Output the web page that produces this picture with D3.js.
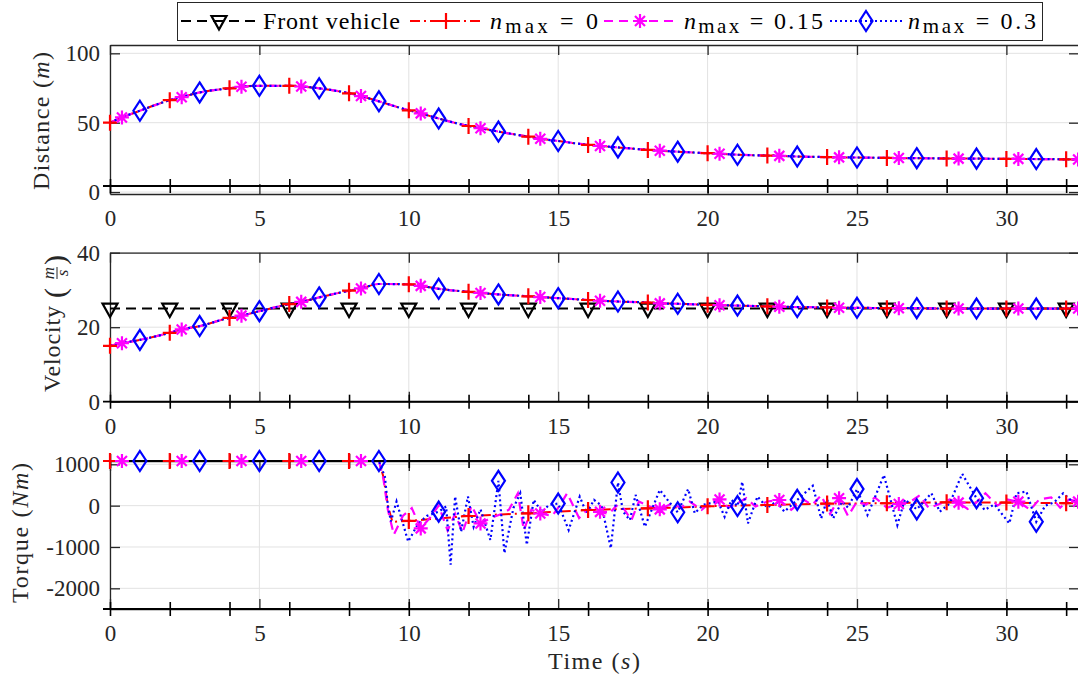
<!DOCTYPE html>
<html lang="en">
<head>
<meta charset="utf-8">
<title>Vehicle following: distance, velocity, torque</title>
<style>
  html, body { margin: 0; padding: 0; background: #ffffff; }
  svg text { font-family: 'Liberation Serif'; }
</style>
<script src="https://cdn.jsdelivr.net/npm/d3@7/dist/d3.min.js"></script>
</head>
<body>
<div id="plot"></div>
<script>
// Tick labels
const timeTicks = [0, 5, 10, 15, 20, 25, 30];
const markerTicks = [0, 2, 4, 6, 8, 10, 12, 14, 16, 18, 20, 22, 24, 26, 28, 30, 32];
const distanceTicks = [0, 50, 100];
const velocityTicks = [0, 20, 40];
const torqueTicks = [-2000, -1000, 0, 1000];
const legendLabels = ['Front vehicle', '0', '0.15', '0.3'];

// Kinematics sampled at the marker instants (the three controllers overlap)
const timeKin = [0, 0.4, 1, 2, 2.4, 3, 4, 4.4, 5, 6, 6.4, 7, 8, 8.4, 9, 10, 10.4, 11, 12, 12.4, 13,
    14, 14.4, 15, 16, 16.4, 17, 18, 18.4, 19, 20, 20.4, 21, 22, 22.4, 23, 24, 24.4, 25, 26, 26.4,
    27, 28, 28.4, 29, 30, 30.4, 31, 32, 32.4];
const distance = [50, 53.8, 58.6, 66.2, 68.4, 71.8, 74.8, 75.9, 76.6, 76.6, 76.1, 74.8, 71.2, 69.2,
    65.4, 58.9, 56.7, 53, 47.6, 46, 43.6, 39.9, 38.4, 36.8, 34, 33.2, 32.2, 30.4, 29.8, 29.1, 28,
    27.6, 26.9, 26.3, 26.1, 25.6, 25.2, 25, 24.9, 24.6, 24.5, 24.4, 24.2, 24.1, 24.1, 23.9, 23.9,
    23.8, 23.6, 23.5];
const velocity = [15, 15.7, 16.6, 18.5, 19.4, 20.3, 22.5, 23.1, 24.3, 26.2, 26.8, 28, 29.8, 30.4,
    31.6, 31.5, 31.1, 30.3, 29.5, 29.2, 28.8, 28.3, 28.1, 27.8, 27.3, 27.1, 26.9, 26.6, 26.4, 26.3,
    26, 25.9, 25.8, 25.6, 25.5, 25.4, 25.3, 25.2, 25.2, 25.1, 25.1, 25.1, 25, 25, 25, 25, 25, 25,
    25, 25];
const frontTime = [0, 2, 4, 6, 8, 10, 12, 14, 16, 18, 20, 22, 24, 26, 28, 30, 32, 32.4];
const frontVelocity = [25, 25, 25, 25, 25, 25, 25, 25, 25, 25, 25, 25, 25, 25, 25, 25, 25, 25];

// Torque, n_max = 0
const torqueTime0 = [0, 2, 4, 6, 8, 9, 9.15, 9.3, 9.45, 10, 11, 12, 13, 14, 15, 16, 17, 18, 19,
    20, 21, 22, 23, 24, 25, 26, 27, 28, 29, 30, 31, 32, 32.4];
const torque0 = [1080, 1080, 1080, 1080, 1080, 1080, 700, 0, -390, -370, -310, -250, -215, -185,
    -145, -105, -85, -64, -45, -15, 0, 16, 35, 50, 55, 58, 70, 80, 78, 75, 65, 60, 62];

// Torque, n_max = 0.15
const torqueTime15 = [0, 0.4, 2.4, 4.4, 6.4, 8.4, 9, 9.15, 9.3, 9.5, 9.8, 10.1, 10.4, 10.7, 11,
    11.3, 11.55, 11.8, 12.1, 12.4, 12.75, 13.1, 13.35, 13.65, 13.85, 14.1, 14.4, 14.8, 15.05, 15.3,
    15.7, 16, 16.4, 16.7, 16.95, 17.2, 17.45, 17.7, 18.1, 18.4, 18.8, 19.1, 19.4, 19.8, 20.1, 20.4,
    20.7, 21, 21.3, 21.6, 22, 22.4, 22.8, 23.2, 23.5, 23.8, 24.1, 24.4, 24.7, 25, 25.3, 25.6, 26,
    26.4, 26.8, 27.1, 27.4, 27.8, 28.1, 28.4, 28.7, 29, 29.3, 29.7, 30, 30.4, 30.8, 31.1, 31.5,
    31.8, 32.1, 32.4];
const torque15 = [1080, 1080, 1080, 1080, 1080, 1080, 1080, 650, -100, -700, -250, -60, -550, -300,
    0, -600, -200, -650, 0, -430, -300, -200, -100, 300, -600, -100, -190, -250, 0, 300, -300, -80,
    -150, -200, 0, -80, -350, 100, -30, -90, 50, -50, 100, -100, 80, 150, -50, 60, 180, -20, 100,
    137, -100, 150, 20, 250, -200, 180, -250, 100, 20, 200, -50, 40, 100, 250, -60, 50, 150, 73, -80,
    80, 300, 0, 150, 97, -100, 150, 200, -50, 150, 97];

// Torque, n_max = 0.3
const torqueTime30 = [0, 1, 3, 5, 7, 9, 9.2, 9.3, 9.4, 9.59, 9.98, 10.3, 10.6, 11, 11.25, 11.4,
    11.55, 11.75, 11.98, 12.17, 12.4, 12.73, 13, 13.2, 13.5, 13.73, 13.95, 14.18, 14.45, 14.7, 15,
    15.35, 15.72, 15.95, 16.2, 16.45, 16.76, 17, 17.17, 17.4, 17.59, 17.9, 18.4, 18.7, 19, 19.35,
    19.57, 19.85, 20.1, 20.35, 20.57, 20.8, 21, 21.16, 21.35, 21.67, 22, 22.3, 22.57, 23, 23.52,
    23.8, 24, 24.2, 24.5, 24.7, 25, 25.35, 25.6, 25.9, 26.35, 26.6, 27, 27.49, 27.77, 28.1, 28.52,
    29, 29.27, 29.6, 30.1, 30.34, 30.67, 31, 31.3, 31.6, 31.9, 32.2, 32.4];
const torque30 = [1080, 1080, 1080, 1080, 1080, 1080, 700, 0, -380, 100, -870, -450, -250, -145,
    -20, -1430, 220, -630, 220, -510, -90, -830, 600, -1150, -60, 300, -950, 140, -150, 20, 50, -590,
    220, -185, 140, 0, -1030, 560, -145, -350, 260, -510, 380, 100, -160, 400, -185, 20, 60, 100,
    -270, 140, -10, 580, -430, 220, -50, 100, -145, 140, 480, -310, 150, -310, 100, -50, 400, -225,
    200, 740, -470, 150, -90, 300, -145, 50, 770, 180, -105, 30, -430, 300, 340, -390, 0, 80, 300,
    100, 120];

// Layout
const W = 1078, H = 677;
const fontFace = "'Liberation Serif'";
const axisColor = '#262626';

const svg = d3.select('#plot')
    .append('svg')
    .attr('width', W)
    .attr('height', H);

// every text gets the serif face inline
const serif = (sel, size) => sel.style('font-family', fontFace).style('font-size', size + 'px');

const x = d3.scaleLinear().domain([0, 32.43]).range([110, 1079]);

// Series styles and the samples that carry markers
const near = (a, b) => Math.abs(a - b) < 1e-6;
const isEven = (t) => near(t, Math.round(t)) && Math.round(t) % 2 === 0;
const isOdd = (t) => near(t, Math.round(t)) && Math.round(t) % 2 !== 0;
const isStar = (t) => isEven(t - 0.4);

const styles = {
    front: { color: '#000000', dash: '10,6', width: 2, marker: 'M-7.5,-5L7.5,-5L0,8.5Z', pick: isEven },
    n0: { color: '#ff0000', dash: '10,4,2,4', width: 2, marker: 'M-7,0H7M0,-8V8', pick: isEven },
    n15: { color: '#ff00ff', dash: '9,6', width: 2.2, marker: 'M-7,0H7M0,-7V7M-5,-5L5,5M-5,5L5,-5', pick: isStar },
    n30: { color: '#0000ff', dash: '2,3', width: 2.2, marker: 'M0,-10L6.5,0L0,10L-6.5,0Z', pick: isOdd }
};

const panels = [
    {
        top: 45, bottom: 194, domain: [-1.4, 106], ticks: distanceTicks, overlay: [186], curve: d3.curveMonotoneX,
        series: [
            { style: 'n0', t: timeKin, v: distance },
            { style: 'n15', t: timeKin, v: distance },
            { style: 'n30', t: timeKin, v: distance }
        ]
    },
    {
        top: 252.7, bottom: 401.7, domain: [0, 40], ticks: velocityTicks, overlay: [401.7], curve: d3.curveMonotoneX,
        series: [
            { style: 'front', t: frontTime, v: frontVelocity },
            { style: 'n0', t: timeKin, v: velocity },
            { style: 'n15', t: timeKin, v: velocity },
            { style: 'n30', t: timeKin, v: velocity }
        ]
    },
    {
        top: 461, bottom: 609, domain: [-2500, 1080], ticks: torqueTicks, overlay: [461, 609], curve: d3.curveLinear,
        series: [
            { style: 'n0', t: torqueTime0, v: torque0 },
            { style: 'n15', t: torqueTime15, v: torque15 },
            { style: 'n30', t: torqueTime30, v: torque30 }
        ]
    }
];

const styleAxis = (sel) => {
    sel.attr('font-family', null);
    sel.select('.domain').attr('stroke', axisColor).attr('stroke-width', 1.3);
    sel.selectAll('.tick line').attr('stroke', axisColor).attr('stroke-width', 1.3);
    sel.selectAll('.tick text')
        .attr('fill', axisColor)
        .call(serif, 23);
};

panels.forEach((p) => {
    const y = d3.scaleLinear().domain(p.domain).range([p.bottom, p.top]);
    const g = svg.append('g');

    // Grid
    g.append('g').selectAll('line')
        .data(timeTicks)
        .enter().append('line')
        .attr('x1', (d) => x(d)).attr('x2', (d) => x(d))
        .attr('y1', p.top).attr('y2', p.bottom)
        .attr('stroke', '#e2e2e2').attr('stroke-width', 1);
    g.append('g').selectAll('line')
        .data(p.ticks)
        .enter().append('line')
        .attr('x1', x.range()[0]).attr('x2', x.range()[1])
        .attr('y1', (d) => y(d)).attr('y2', (d) => y(d))
        .attr('stroke', '#e2e2e2').attr('stroke-width', 1);

    // Box axes
    g.append('g')
        .attr('transform', 'translate(0,' + p.bottom + ')')
        .call(d3.axisBottom(x).tickValues(timeTicks).tickSize(-10).tickSizeOuter(0).tickPadding(16))
        .call(styleAxis);
    g.append('g')
        .attr('transform', 'translate(0,' + p.top + ')')
        .call(d3.axisTop(x).tickValues(timeTicks).tickSize(-10).tickSizeOuter(0).tickFormat(''))
        .call(styleAxis);
    g.append('g')
        .attr('transform', 'translate(' + x.range()[0] + ',0)')
        .call(d3.axisLeft(y).tickValues(p.ticks).tickSize(-10).tickSizeOuter(0).tickPadding(10)
            .tickFormat((d) => String(d)))
        .call(styleAxis);
    g.append('g')
        .attr('transform', 'translate(' + x.range()[1] + ',0)')
        .call(d3.axisRight(y).tickValues(p.ticks).tickSize(-10).tickSizeOuter(0).tickFormat(''))
        .call(styleAxis);

    // Lines
    p.series.forEach((s) => {
        const st = styles[s.style];
        const pts = s.t.map((t, i) => [t, s.v[i]]);
        const line = d3.line()
            .x((d) => x(d[0]))
            .y((d) => y(d[1]))
            .curve(p.curve);
        g.append('path')
            .attr('d', line(pts))
            .attr('fill', 'none')
            .attr('stroke', st.color)
            .attr('stroke-width', st.width)
            .attr('stroke-dasharray', st.dash);
    });

    // Overlay axes with ticks every 2 s
    p.overlay.forEach((oy) => {
        const og = g.append('g')
            .attr('transform', 'translate(0,' + oy + ')')
            .call(d3.axisBottom(x).tickValues(markerTicks).tickSize(7).tickSizeOuter(0).tickFormat(''));
        og.select('.domain').remove();
        og.selectAll('.tick line')
            .attr('y1', -7).attr('y2', 7)
            .attr('stroke', '#000').attr('stroke-width', 1.6);
        og.append('line')
            .attr('x1', x.range()[0] - 7).attr('x2', x.range()[1])
            .attr('stroke', '#000').attr('stroke-width', 1.8);
    });

    // Markers
    p.series.forEach((s) => {
        const st = styles[s.style];
        const pts = s.t.map((t, i) => [t, s.v[i]]).filter((d) => st.pick(d[0]));
        g.append('g').selectAll('path')
            .data(pts)
            .enter().append('path')
            .attr('transform', (d) => 'translate(' + x(d[0]) + ',' + y(d[1]) + ')')
            .attr('d', st.marker)
            .attr('fill', 'none')
            .attr('stroke', st.color)
            .attr('stroke-width', 2.2);
    });
});

// Axis titles
const label = (cx, cy, parts, len) => {
    const t = svg.append('text')
        .attr('transform', 'translate(' + cx + ',' + cy + ') rotate(-90)')
        .attr('text-anchor', 'middle')
        .call(serif, 24)
        .attr('fill', axisColor)
        .attr('textLength', len)
        .attr('lengthAdjust', 'spacing');
    parts.forEach((pt) => t.append('tspan').attr('font-style', pt[1] ? 'italic' : 'normal').text(pt[0]));
};
label(49, 121, [['Distance (', 0], ['m', 1], [')', 0]], 138);
label(28, 533, [['Torque (', 0], ['Nm', 1], [')', 0]], 140);

// Velocity title with fraction
const vg = svg.append('g')
    .attr('transform', 'translate(60,392) rotate(-90)')
    .attr('fill', axisColor);
vg.append('text').attr('x', 0).call(serif, 24)
    .attr('textLength', 86).attr('lengthAdjust', 'spacing').text('Velocity');
vg.append('text').attr('x', 94).attr('y', 5).call(serif, 30).text('(');
vg.append('text').attr('x', 119).attr('y', -6).call(serif, 17)
    .attr('text-anchor', 'middle').attr('font-style', 'italic').text('m');
vg.append('line').attr('x1', 113).attr('x2', 125).attr('y1', -3).attr('y2', -3)
    .attr('stroke', axisColor).attr('stroke-width', 1);
vg.append('text').attr('x', 119).attr('y', 8).call(serif, 17)
    .attr('text-anchor', 'middle').attr('font-style', 'italic').text('s');
vg.append('text').attr('x', 127).attr('y', 5).call(serif, 30).text(')');

// X title
const xt = svg.append('text')
    .attr('x', 594).attr('y', 669)
    .attr('text-anchor', 'middle')
    .call(serif, 24)
    .attr('fill', axisColor)
    .attr('textLength', 92)
    .attr('lengthAdjust', 'spacing');
xt.append('tspan').text('Time (');
xt.append('tspan').attr('font-style', 'italic').text('s');
xt.append('tspan').text(')');

// Legend
const lg = svg.append('g');
lg.append('rect')
    .attr('x', 177.5).attr('y', 2.5).attr('width', 865).attr('height', 38)
    .attr('fill', '#fff').attr('stroke', axisColor).attr('stroke-width', 1);

const legendItems = [
    { style: 'front', x1: 181, x2: 258, mx: 219, tx: 263, len: 137 },
    { style: 'n0', x1: 410, x2: 484, mx: 446, tx: 490, len: 108 },
    { style: 'n15', x1: 604, x2: 677, mx: 640, tx: 684, len: 139 },
    { style: 'n30', x1: 830, x2: 903, mx: 866, tx: 908, len: 128 }
];
legendItems.forEach((it, i) => {
    const st = styles[it.style];
    lg.append('line')
        .attr('x1', it.x1).attr('x2', it.x2).attr('y1', 21).attr('y2', 21)
        .attr('stroke', st.color).attr('stroke-width', st.width)
        .attr('stroke-dasharray', st.dash);
    lg.append('path')
        .attr('transform', 'translate(' + it.mx + ',21)')
        .attr('d', st.marker)
        .attr('fill', 'none').attr('stroke', st.color).attr('stroke-width', 2.2);
    const t = lg.append('text')
        .attr('x', it.tx).attr('y', 29)
        .call(serif, 24)
        .attr('fill', '#000')
        .attr('textLength', it.len)
        .attr('lengthAdjust', 'spacing');
    if (i === 0) {
        t.text(legendLabels[0]);
    } else {
        t.append('tspan').attr('font-style', 'italic').text('n');
        t.append('tspan').style('font-size', '21px').attr('dy', 4).text('max');
        t.append('tspan').attr('dy', -4).text(' = ' + legendLabels[i]);
    }
});
</script>
</body>
</html>
